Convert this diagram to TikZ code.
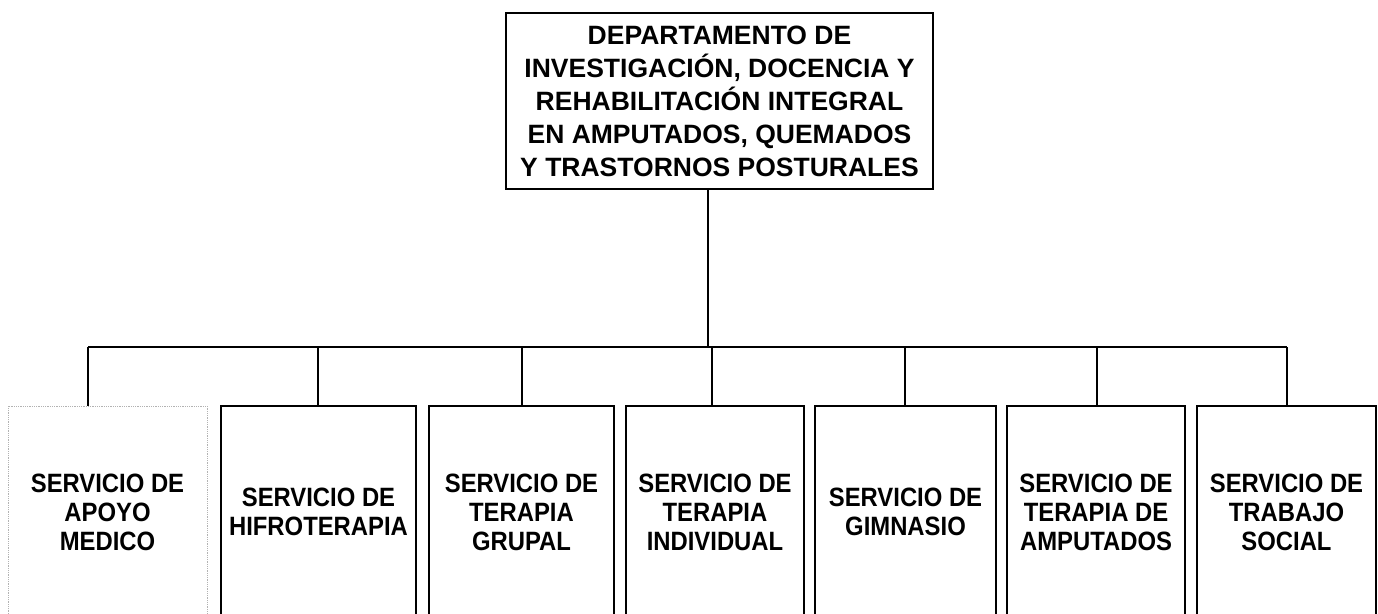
\documentclass[tikz,border=0pt]{standalone}
\usepackage{fontspec}
\setmainfont{Liberation Sans}
\newfontfamily\svcfont[FakeStretch=0.9]{Liberation Sans}
\begin{document}
\begin{tikzpicture}[x=1pt,y=-1pt,line width=1.1pt,
  topbox/.style={draw,align=center,inner sep=0pt,minimum width=427pt,minimum height=176pt,
    font=\bfseries\fontsize{26.5}{33}\selectfont},
  svcbox/.style={draw,align=center,inner sep=0pt,minimum height=212pt,
    font=\svcfont\bfseries\fontsize{26.5}{29}\selectfont},
  faintbox/.style={svcbox,draw=gray!60,densely dotted,line width=0.8pt},
  link/.style={draw,line width=1.1pt}]
\useasboundingbox (0,0) rectangle (1378,613);
\clip (0,0) rectangle (1378,613);
\node[topbox] (top) at (719.5,101) {DEPARTAMENTO DE\\INVESTIGACIÓN, DOCENCIA Y\\REHABILITACIÓN INTEGRAL\\EN AMPUTADOS, QUEMADOS\\Y TRASTORNOS POSTURALES};
\node[faintbox,minimum width=199pt] (b1) at (107.5,512) {SERVICIO DE\\APOYO\\MEDICO};
\node[svcbox,minimum width=195pt] (b2) at (318.5,512) {SERVICIO DE\\HIFROTERAPIA};
\node[svcbox,minimum width=185pt] (b3) at (521.5,512) {SERVICIO DE\\TERAPIA\\GRUPAL};
\node[svcbox,minimum width=178pt] (b4) at (715,512) {SERVICIO DE\\TERAPIA\\INDIVIDUAL};
\node[svcbox,minimum width=181pt] (b5) at (905.5,512) {SERVICIO DE\\GIMNASIO};
\node[svcbox,minimum width=178pt] (b6) at (1096,512) {SERVICIO DE\\TERAPIA DE\\AMPUTADOS};
\node[svcbox,minimum width=179pt] (b7) at (1286.5,512) {SERVICIO DE\\TRABAJO\\SOCIAL};
\coordinate (t) at (708,189);
\coordinate (j) at (708,347);
\coordinate (h1) at (88,347);
\coordinate (h2) at (318,347);
\coordinate (h3) at (522,347);
\coordinate (h4) at (712,347);
\coordinate (h5) at (905,347);
\coordinate (h6) at (1097,347);
\coordinate (h7) at (1287,347);
\draw[link] (t) -- (j);
\draw[link] (h1) -- (h7);
\draw[link] (h1) -- (h1 |- b1.north);
\draw[link] (h2) -- (h2 |- b2.north);
\draw[link] (h3) -- (h3 |- b3.north);
\draw[link] (h4) -- (h4 |- b4.north);
\draw[link] (h5) -- (h5 |- b5.north);
\draw[link] (h6) -- (h6 |- b6.north);
\draw[link] (h7) -- (h7 |- b7.north);
\end{tikzpicture}
\end{document}
